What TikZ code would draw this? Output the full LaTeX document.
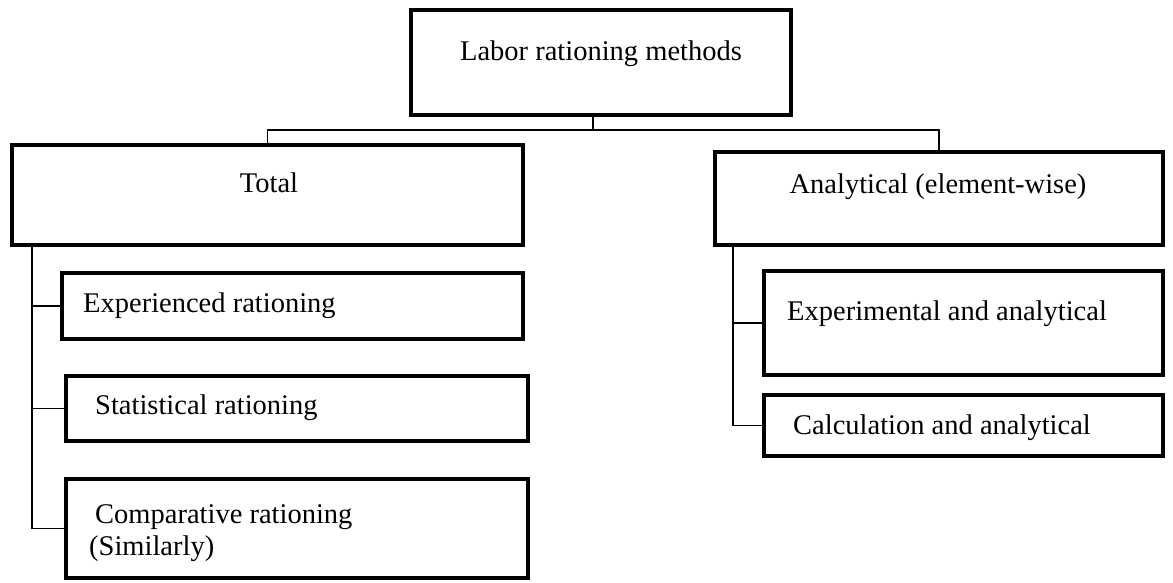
\documentclass[tikz,border=0pt]{standalone}
\usepackage{fontspec}
\setmainfont{Liberation Serif}
\begin{document}
\begin{tikzpicture}[x=1pt,y=-1pt,
  box/.style={draw=black,line width=4.5pt,rectangle,inner sep=0pt,fill=white},
  conn/.style={draw=black,line width=1.6pt},
  txt/.style={inner sep=0pt,font=\fontsize{28.5}{34}\selectfont}]
\useasboundingbox (0,0) rectangle (1173,582);
% boxes (centres and sizes from stroke centre lines)
\node[box,minimum width=380pt,minimum height=105pt] (top) at (601,62.5) {};
\node[box,minimum width=511pt,minimum height=100pt] (total) at (267.5,195) {};
\node[box,minimum width=448pt,minimum height=93pt] (anal) at (939,198.5) {};
\node[box,minimum width=461pt,minimum height=66pt] (exp) at (292.5,306) {};
\node[box,minimum width=462pt,minimum height=65pt] (stat) at (297,408.5) {};
\node[box,minimum width=462pt,minimum height=99pt] (comp) at (297,528.5) {};
\node[box,minimum width=399pt,minimum height=104pt] (expa) at (963.5,323) {};
\node[box,minimum width=399pt,minimum height=61pt] (calc) at (963.5,425.5) {};
% texts
\node[txt,anchor=base] (ttop) at (601,60) {Labor rationing methods};
\node[txt,anchor=base] (ttotal) at (269,192) {Total};
\node[txt,anchor=base] (tanal) at (938,193) {Analytical (element-wise)};
\node[txt,anchor=base west] (texp) at (83,312) {Experienced rationing};
\node[txt,anchor=base west] (tstat) at (95,414) {Statistical rationing};
\node[txt,anchor=base west] (tcomp) at (95,523) {Comparative rationing};
\node[txt,anchor=base west] (tcomp2) at (89,555) {(Similarly)};
\node[txt,anchor=base west] (texpa) at (787,320) {Experimental and analytical};
\node[txt,anchor=base west] (tcalc) at (793,434) {Calculation and analytical};
% connectors
\coordinate (jy) at (0,130);
\coordinate (lv) at (32,0);
\coordinate (rv) at (733,0);
\draw[conn] ([xshift=-8pt]top.south) -- ([xshift=-8pt]top.south |- jy);
\draw[conn] (total.north) -- (total.north |- jy) -- (anal.north |- jy) -- (anal.north);
\draw[conn] (lv |- total.south) |- (comp.west);
\draw[conn] (lv |- exp.west) -- (exp.west);
\draw[conn] (lv |- stat.west) -- (stat.west);
\draw[conn] (rv |- anal.south) |- (calc.west);
\draw[conn] (rv |- expa.west) -- (expa.west);
\end{tikzpicture}
\end{document}
